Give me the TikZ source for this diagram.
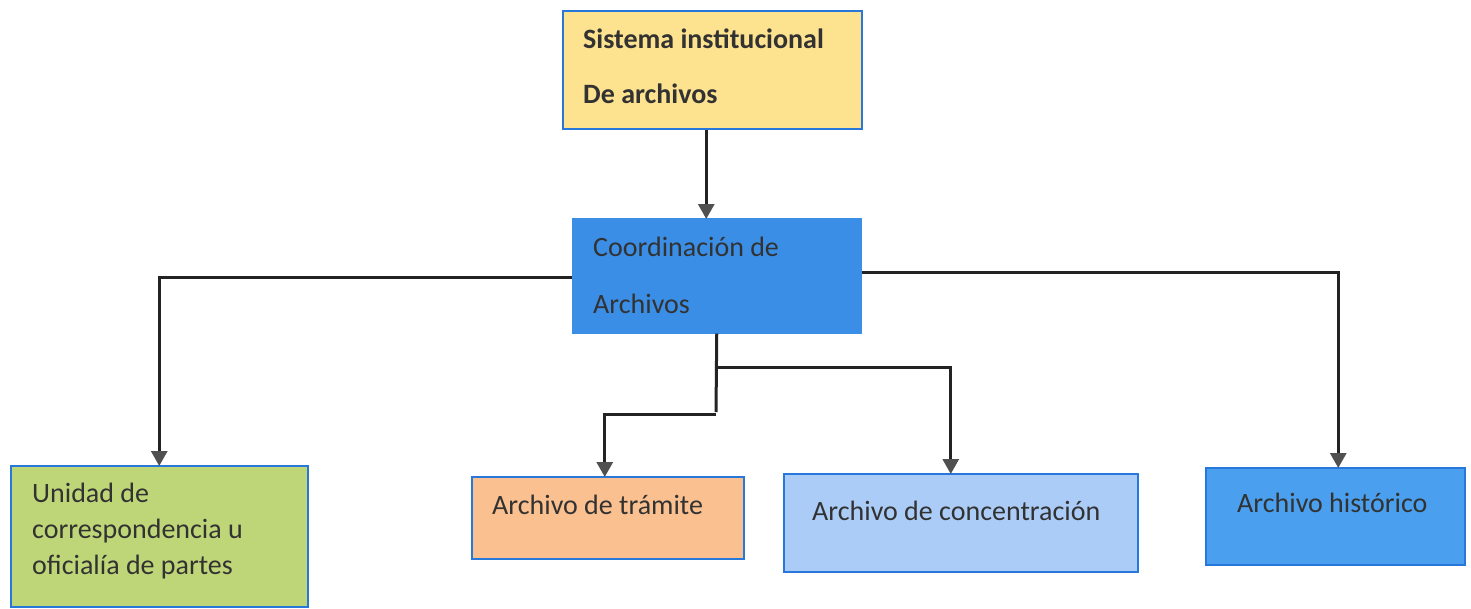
\documentclass[tikz,border=0pt]{standalone}
\usepackage{fontspec}
\setmainfont{Carlito}
\usetikzlibrary{arrows.meta}
\definecolor{cyellow}{RGB}{253,226,143}
\definecolor{ccoord}{RGB}{59,142,229}
\definecolor{cgreen}{RGB}{191,214,120}
\definecolor{corange}{RGB}{250,192,143}
\definecolor{clblue}{RGB}{170,204,246}
\definecolor{chist}{RGB}{74,160,238}
\definecolor{cborder}{RGB}{40,120,220}
\definecolor{ctext}{RGB}{50,50,50}
\definecolor{cline}{RGB}{35,35,35}
\definecolor{ctip}{RGB}{80,80,80}
\tikzset{
  box/.style={draw=cborder, line width=1.5pt, rectangle, anchor=north west, inner sep=0pt},
  lbl/.style={anchor=base west, inner sep=0pt, text=ctext, font=\fontsize{28}{34}\selectfont},
  conn/.style={draw=cline, line width=3pt},
  arr/.style={conn, -{Triangle[width=16pt,length=15pt,color=ctip]}, shorten >=-1pt}
}
\begin{document}
\begin{tikzpicture}[x=1pt,y=-1pt]
\useasboundingbox (0,0) rectangle (1471,608);
% boxes
\node[box, fill=cyellow, minimum width=299pt, minimum height=118pt] (top) at (562,10) {};
\node[box, fill=ccoord, draw=ccoord, minimum width=288pt, minimum height=114pt] (coord) at (572,218) {};
\node[box, fill=cgreen, minimum width=297pt, minimum height=141pt] (unid) at (10,465) {};
\node[box, fill=corange, minimum width=272pt, minimum height=82pt] (tram) at (471,476) {};
\node[box, fill=clblue, minimum width=354pt, minimum height=98pt] (conc) at (783,473) {};
\node[box, fill=chist, minimum width=259pt, minimum height=97pt] (hist) at (1205,467) {};
% labels
\node[lbl, font=\fontsize{28}{34}\selectfont\bfseries] (t1) at (583,48) {Sistema institucional};
\node[lbl, font=\fontsize{28}{34}\selectfont\bfseries] (t2) at (583,103) {De archivos};
\node[lbl] (c1) at (593,256) {Coordinación de};
\node[lbl] (c2) at (593,313) {Archivos};
\node[lbl] (u1) at (32,502) {Unidad de};
\node[lbl] (u2) at (32,538) {correspondencia u};
\node[lbl] (u3) at (32,574) {oficialía de partes};
\node[lbl] (tr) at (492,514) {Archivo de trámite};
\node[lbl] (co) at (812,520) {Archivo de concentración};
\node[lbl] (hi) at (1237,512) {Archivo histórico};
% connectors
\coordinate (j1) at (716,367);
\coordinate (j2) at (716,412);
\draw[arr] ([xshift=-6pt]top.south) -- ([xshift=-6pt]top.south |- coord.north);
\draw[arr] ([yshift=-2pt]coord.west) -| (unid.north);
\draw[arr] ([yshift=3pt]coord.east) -| ([xshift=3pt]hist.north);
\draw[conn] (coord.south) -- (j2);
\draw[arr] (j1) -| ([xshift=-10pt]conc.north);
\draw[arr] ([yshift=-2pt]j2) -| ([xshift=-3pt]tram.north);
\end{tikzpicture}
\end{document}
